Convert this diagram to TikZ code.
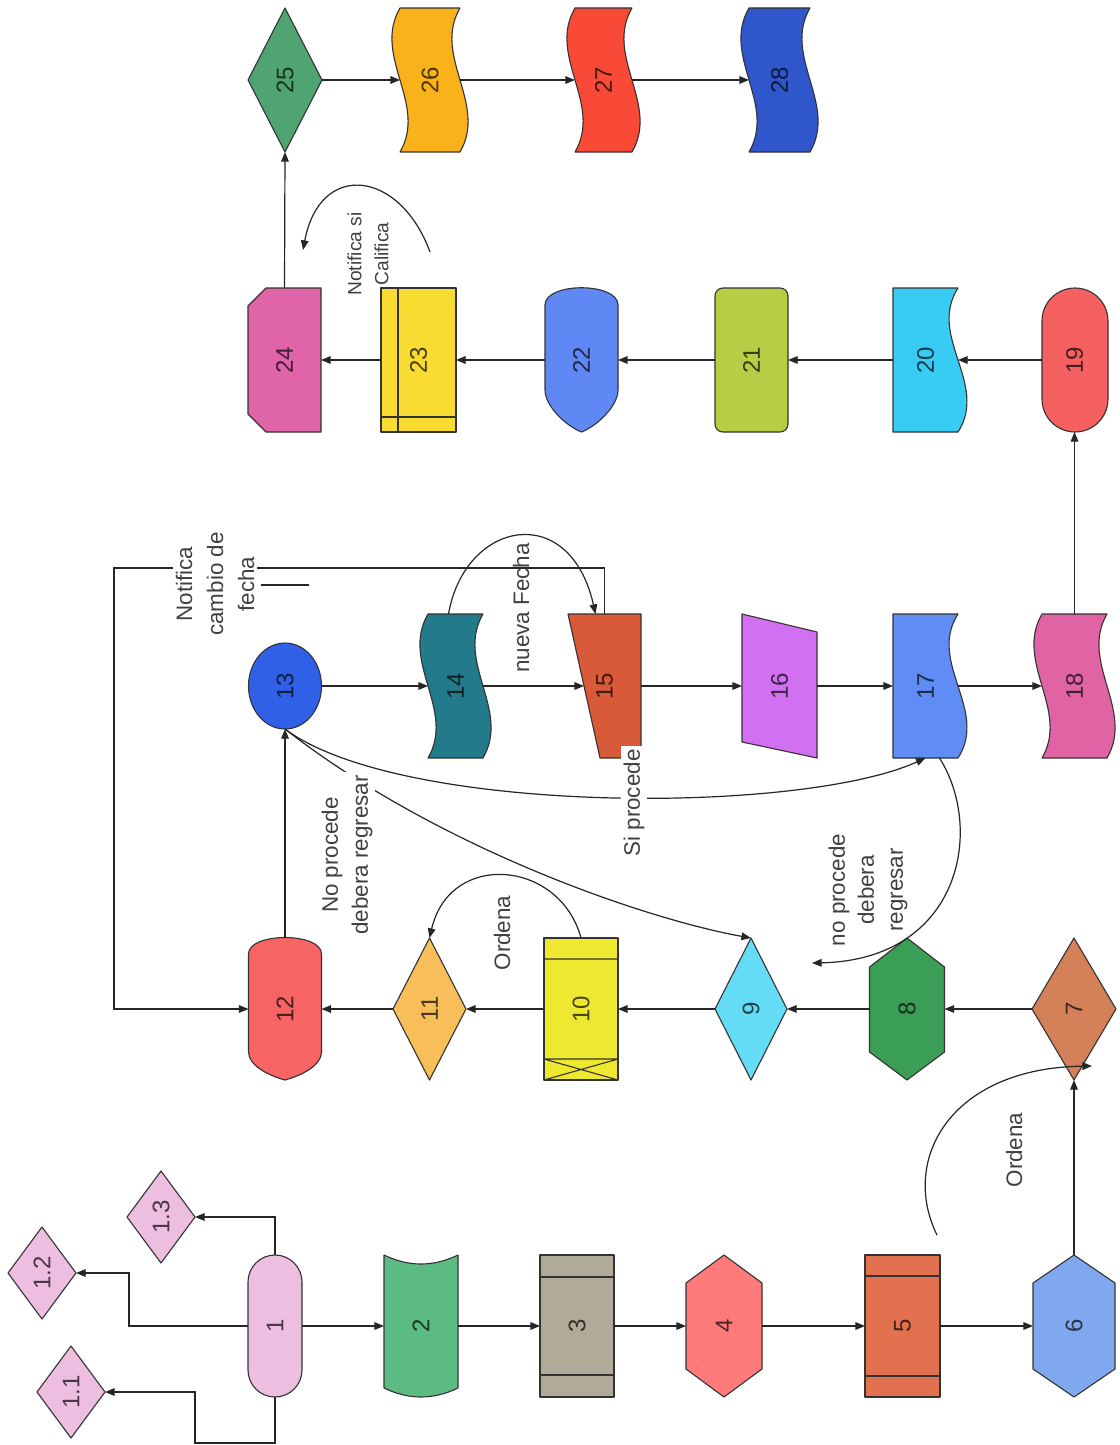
\documentclass[tikz,border=0pt]{standalone}
\usepackage{fontspec}
\setmainfont{Liberation Sans}
\usetikzlibrary{arrows.meta}
\definecolor{c1}{RGB}{238,190,224}
\definecolor{c2}{RGB}{92,186,131}
\definecolor{c3}{RGB}{176,170,152}
\definecolor{c4}{RGB}{255,122,122}
\definecolor{c5}{RGB}{226,113,80}
\definecolor{c6}{RGB}{128,168,238}
\definecolor{c7}{RGB}{212,128,88}
\definecolor{c8}{RGB}{58,158,86}
\definecolor{c9}{RGB}{100,220,245}
\definecolor{c10}{RGB}{238,232,48}
\definecolor{c11}{RGB}{248,190,90}
\definecolor{c12}{RGB}{246,100,100}
\definecolor{c13}{RGB}{48,96,232}
\definecolor{c14}{RGB}{34,122,138}
\definecolor{c15}{RGB}{216,90,56}
\definecolor{c16}{RGB}{210,112,242}
\definecolor{c17}{RGB}{96,140,245}
\definecolor{c18}{RGB}{224,100,164}
\definecolor{c19}{RGB}{245,96,96}
\definecolor{c20}{RGB}{56,204,245}
\definecolor{c21}{RGB}{182,206,70}
\definecolor{c22}{RGB}{96,136,245}
\definecolor{c23}{RGB}{248,220,50}
\definecolor{c24}{RGB}{224,100,168}
\definecolor{c25}{RGB}{80,164,114}
\definecolor{c26}{RGB}{250,178,26}
\definecolor{c27}{RGB}{248,74,54}
\definecolor{c28}{RGB}{48,86,204}
\begin{document}
\begin{tikzpicture}[x=0.5pt,y=-0.5pt,
  shp/.style={draw=black!80, line width=0.55pt, line join=round},
  nb/.style 2 args={draw=none, inner sep=0pt, outer sep=0pt, minimum width={#1*0.5pt}, minimum height={#2*0.5pt}, font=\fontsize{12}{14}\selectfont},
  conn/.style={draw=black!85, line width=0.6pt, -{Triangle[length=4.8pt,width=3.8pt]}},
  plain/.style={draw=black!85, line width=0.6pt},
  lbl/.style={rotate=90, align=center, font=\fontsize{11.2}{15}\selectfont, text=black!75, inner sep=1.5pt},
  lblw/.style={lbl, fill=white}]
\fill[white] (0,0) rectangle (1119,1445);
\useasboundingbox (0,0) rectangle (1119,1445);

% ---------- shapes: row A ----------
\path[shp, fill=c1, rounded corners=13.5pt] (248,1255) rectangle (302,1397);
\path[shp, fill=c1] (71,1346) -- (105,1392) -- (71,1438) -- (37,1392) -- cycle;
\path[shp, fill=c1] (42,1227) -- (76,1273) -- (42,1319) -- (8,1273) -- cycle;
\path[shp, fill=c1] (161,1171) -- (195,1217) -- (161,1263) -- (127,1217) -- cycle;
\path[shp, fill=c2] (384,1255) .. controls (409,1267) and (433,1267) .. (458,1255) -- (458,1388) .. controls (433,1400) and (409,1400) .. (384,1388) -- cycle;
\path[shp, fill=c3] (540,1255) rectangle (614,1397);
\draw[shp] (540,1277) -- (614,1277) (540,1375) -- (614,1375);
\path[shp, fill=c4] (724,1255) -- (762,1283) -- (762,1369) -- (724,1397) -- (686,1369) -- (686,1283) -- cycle;
\path[shp, fill=c5] (865,1255) rectangle (940,1397);
\draw[shp] (865,1276) -- (940,1276) (865,1376) -- (940,1376);
\path[shp, fill=c6] (1074,1255) -- (1115,1283) -- (1115,1369) -- (1074,1397) -- (1033,1369) -- (1033,1283) -- cycle;

% ---------- shapes: row B ----------
\path[shp, fill=c7] (1074,938) -- (1116,1009) -- (1074,1080) -- (1032,1009) -- cycle;
\path[shp, fill=c8] (907,938) -- (944.5,967) -- (944.5,1052) -- (907,1080) -- (869.5,1052) -- (869.5,967) -- cycle;
\path[shp, fill=c9] (751,938) -- (787,1009) -- (751,1080) -- (715,1009) -- cycle;
\path[shp, fill=c10] (544,938) rectangle (618,1080);
\draw[shp] (544,959) -- (618,959) (544,1059) -- (618,1059) (544,1059) -- (618,1080) (544,1080) -- (618,1059);
\path[shp, fill=c11] (429.5,938) -- (466,1009) -- (429.5,1080) -- (393,1009) -- cycle;
\path[shp, fill=c12] (248.5,954) .. controls (248.5,932) and (321.5,932) .. (321.5,954) -- (321.5,1052) .. controls (321.5,1066) and (300,1076) .. (285,1080) .. controls (270,1076) and (248.5,1066) .. (248.5,1052) -- cycle;

% ---------- shapes: row C ----------
\path[shp, fill=c13] (285,686) ellipse [x radius=18.25pt, y radius=21.5pt];
\path[shp, fill=c14] (428,614) -- (483,614) .. controls (455,662) and (511,710) .. (483,758) -- (428,758) .. controls (456,710) and (400,662) .. (428,614) -- cycle;
\path[shp, fill=c15] (568,614) -- (641,614) -- (641,758) -- (600,758) -- cycle;
\path[shp, fill=c16] (742,614) -- (817,632) -- (817,758) -- (742,742) -- cycle;
\path[shp, fill=c17] (893,614) -- (958,614) .. controls (927,662) and (989,710) .. (958,758) -- (893,758) -- cycle;
\path[shp, fill=c18] (1042,614) -- (1107,614) .. controls (1079,662) and (1135,710) .. (1107,758) -- (1042,758) .. controls (1070,710) and (1014,662) .. (1042,614) -- cycle;

% ---------- shapes: row D ----------
\path[shp, fill=c19, rounded corners=16.5pt] (1042,288) rectangle (1108,432);
\path[shp, fill=c20] (893,288) -- (958,288) .. controls (927,336) and (989,384) .. (958,432) -- (893,432) -- cycle;
\path[shp, fill=c21, rounded corners=4pt] (715,288) rectangle (788,432);
\path[shp, fill=c22] (545,305) .. controls (545,282) and (618,282) .. (618,305) -- (618,390) .. controls (618,406) and (597,426) .. (581.5,432) .. controls (566,426) and (545,406) .. (545,390) -- cycle;
\path[shp, fill=c23] (381,288) rectangle (456,432);
\draw[shp] (398,288) -- (398,432) (381,417) -- (456,417);
\path[shp, fill=c24] (266,288) -- (321,288) -- (321,432) -- (266,432) -- (248,414) -- (248,306) -- cycle;

% ---------- shapes: row E ----------
\path[shp, fill=c25] (285,8) -- (322,80) -- (285,152) -- (248,80) -- cycle;
\path[shp, fill=c26] (400,8) -- (460,8) .. controls (432,56) and (488,104) .. (460,152) -- (400,152) .. controls (428,104) and (372,56) .. (400,8) -- cycle;
\path[shp, fill=c27] (575,8) -- (632,8) .. controls (604,56) and (660,104) .. (632,152) -- (575,152) .. controls (603,104) and (547,56) .. (575,8) -- cycle;
\path[shp, fill=c28] (749,8) -- (810,8) .. controls (782,56) and (838,104) .. (810,152) -- (749,152) .. controls (777,104) and (721,56) .. (749,8) -- cycle;

% ---------- named nodes with text ----------
\node[nb={54}{142}, text=c1!30!black] (n1) at (275,1326) {\rotatebox{90}{1}};
\node[nb={68}{92}, text=c1!30!black] (n1a) at (71,1392) {\rotatebox{90}{1.1}};
\node[nb={68}{92}, text=c1!30!black] (n1b) at (42,1273) {\rotatebox{90}{1.2}};
\node[nb={68}{92}, text=c1!30!black] (n1c) at (161,1217) {\rotatebox{90}{1.3}};
\node[nb={74}{142}, text=c2!30!black] (n2) at (421,1326) {\rotatebox{90}{2}};
\node[nb={74}{142}, text=c3!30!black] (n3) at (577,1326) {\rotatebox{90}{3}};
\node[nb={76}{142}, text=c4!30!black] (n4) at (724,1326) {\rotatebox{90}{4}};
\node[nb={75}{142}, text=c5!30!black] (n5) at (902.5,1326) {\rotatebox{90}{5}};
\node[nb={82}{142}, text=c6!30!black] (n6) at (1074,1326) {\rotatebox{90}{6}};
\node[nb={84}{142}, text=c7!30!black] (n7) at (1074,1009) {\rotatebox{90}{7}};
\node[nb={75}{142}, text=c8!30!black] (n8) at (907,1009) {\rotatebox{90}{8}};
\node[nb={72}{142}, text=c9!30!black] (n9) at (751,1009) {\rotatebox{90}{9}};
\node[nb={74}{142}, text=c10!30!black] (n10) at (581,1009) {\rotatebox{90}{10}};
\node[nb={73}{142}, text=c11!30!black] (n11) at (429.5,1009) {\rotatebox{90}{11}};
\node[nb={73}{142}, text=c12!30!black] (n12) at (285,1009) {\rotatebox{90}{12}};
\node[nb={73}{86}, text=c13!30!black] (n13) at (285,686) {\rotatebox{90}{13}};
\node[nb={55}{144}, text=c14!30!black] (n14) at (455.5,686) {\rotatebox{90}{14}};
\node[nb={73}{144}, text=c15!30!black] (n15) at (604.5,686) {\rotatebox{90}{15}};
\node[nb={75}{144}, text=c16!30!black] (n16) at (779.5,686) {\rotatebox{90}{16}};
\node[nb={65}{144}, text=c17!30!black] (n17) at (925.5,686) {\rotatebox{90}{17}};
\node[nb={65}{144}, text=c18!30!black] (n18) at (1074.5,686) {\rotatebox{90}{18}};
\node[nb={66}{144}, text=c19!30!black] (n19) at (1074.5,360) {\rotatebox{90}{19}};
\node[nb={65}{144}, text=c20!30!black] (n20) at (925.5,360) {\rotatebox{90}{20}};
\node[nb={73}{144}, text=c21!30!black] (n21) at (751.5,360) {\rotatebox{90}{21}};
\node[nb={73}{144}, text=c22!30!black] (n22) at (581.5,360) {\rotatebox{90}{22}};
\node[nb={75}{144}, text=c23!30!black] (n23) at (418.5,360) {\rotatebox{90}{23}};
\node[nb={73}{144}, text=c24!30!black] (n24) at (284.5,360) {\rotatebox{90}{24}};
\node[nb={74}{144}, text=c25!30!black] (n25) at (285,80) {\rotatebox{90}{25}};
\node[nb={60}{144}, text=c26!30!black] (n26) at (430,80) {\rotatebox{90}{26}};
\node[nb={57}{144}, text=c27!30!black] (n27) at (603.5,80) {\rotatebox{90}{27}};
\node[nb={61}{144}, text=c28!30!black] (n28) at (779.5,80) {\rotatebox{90}{28}};

% ---------- connectors ----------
\coordinate (b11) at (195,1443);
\coordinate (b12) at (129,1326);
\draw[conn] (n1.south) |- (b11) |- (n1a.east);
\draw[conn] (n1.west) -- (b12) |- (n1b.east);
\draw[conn] (n1.north) |- (n1c.east);
\draw[conn] (n1.east) -- (n2.west);
\draw[conn] (n2.east) -- (n3.west);
\draw[conn] (n3.east) -- (n4.west);
\draw[conn] (n4.east) -- (n5.west);
\draw[conn] (n5.east) -- (n6.west);
\draw[conn] (n6.north) -- (n7.south);
\draw[conn] (n7.west) -- (n8.east);
\draw[conn] (n8.west) -- (n9.east);
\draw[conn] (n9.west) -- (n10.east);
\draw[conn] (n10.west) -- (n11.east);
\draw[conn] (n11.west) -- (n12.east);
\draw[conn] (n12.north) -- (n13.south);
\draw[conn] (n13.east) -- (n14.west);
\draw[conn] (n14.east) -- ([xshift=8pt]n15.west);
\draw[conn] (n15.east) -- (n16.west);
\draw[conn] (n16.east) -- (n17.west);
\draw[conn] (n17.east) -- (n18.west);
\draw[conn] (n18.north) -- (n19.south);
\draw[conn] (n19.west) -- (n20.east);
\draw[conn] (n20.west) -- (n21.east);
\draw[conn] (n21.west) -- (n22.east);
\draw[conn] (n22.west) -- (n23.east);
\draw[conn] (n23.west) -- (n24.east);
\draw[conn] (n24.north) -- (n25.south);
\draw[conn] (n25.east) -- (n26.west);
\draw[conn] (n26.east) -- (n27.west);
\draw[conn] (n27.east) -- (n28.west);

% curved and routed connectors
\coordinate (oa) at (937,1235);
\coordinate (ob) at (1092,1066);
\draw[conn] (oa) .. controls (900,1160) and (950,1068) .. (ob);
\draw[conn] (n10.north) .. controls (560,860) and (450,850) .. (n11.north);
\draw[conn] ([xshift=-3.5pt]n14.north) .. controls (465,520) and (570,500) .. ([xshift=-4.5pt]n15.north);
\draw[conn] (n13.south) .. controls (400,815) and (800,815) .. (n17.south);
\draw[conn] (n13.south) .. controls (440,850) and (650,920) .. (n9.north);
\coordinate (np) at (812,963);
\draw[conn] ([xshift=7pt]n17.south) .. controls (985,830) and (960,960) .. (np);
\coordinate (ncs1) at (430,252);
\coordinate (ncs2) at (303,250);
\draw[conn] (ncs1) .. controls (400,170) and (320,160) .. (ncs2);
\coordinate (nf) at (114,568);
\draw[conn] (n15.north) |- (nf) |- (n12.west);
\draw[plain] (261,585) -- (309,585);

% ---------- labels ----------
\node[lblw, font=\fontsize{11.2}{15.5}\selectfont] (l1) at (215,584) {Notifica\\cambio de\\fecha};
\node[lbl] (l2) at (521,608) {nueva Fecha};
\node[lblw] (l3) at (634,803) {Si procede};
\node[lblw] (l4) at (347,855) {No procede\\debera regresar};
\node[lbl, font=\fontsize{11.2}{14.5}\selectfont] (l5) at (868,890) {no procede\\debera\\regresar};
\node[lbl] (l6) at (502,933) {Ordena};
\node[lbl] (l7) at (1014,1150) {Ordena};
\node[lbl, font=\fontsize{9.6}{13.5}\selectfont] (l8) at (368,254) {Notifica si\\Califica};
\end{tikzpicture}
\end{document}
